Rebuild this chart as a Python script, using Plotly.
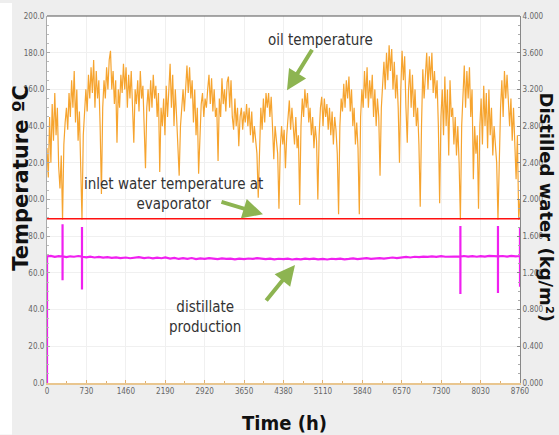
import plotly.graph_objects as go

# ---------------- data ----------------
# daily samples of the oil temperature (°C), day 0 .. 365
oil_temp = [
    128, 112, 145, 120, 152, 132, 158, 135, 150, 118,
    106, 124, 89, 130, 142, 150, 138, 158, 145, 165,
    150, 170, 142, 160, 132, 148, 118, 89, 135, 150,
    160, 148, 168, 155, 172, 158, 176, 150, 170, 155,
    165, 140, 103, 150, 165, 155, 172, 160, 176, 181,
    160, 170, 152, 165, 131, 160, 150, 168, 158, 174,
    160, 172, 150, 168, 155, 170, 145, 131, 160, 152,
    165, 148, 170, 155, 162, 140, 117, 150, 160, 148,
    165, 150, 168, 155, 162, 145, 158, 115, 150, 140,
    155, 135, 162, 145, 165, 174, 150, 168, 140, 160,
    145, 130, 113, 140, 150, 160, 148, 165, 173, 158,
    172, 155, 165, 142, 160, 135, 150, 114, 140, 152,
    158, 145, 155, 150, 160, 168, 152, 166, 148, 160,
    145, 150, 121, 155, 145, 166, 152, 160, 148, 164,
    167, 150, 165, 145, 138, 155, 140, 150, 129, 145,
    150, 138, 148, 142, 152, 140, 150, 135, 148, 131,
    140, 131, 125, 101, 135, 150, 138, 155, 142, 158,
    150, 158, 145, 156, 140, 122, 140, 132, 125, 95,
    128, 140, 130, 138, 117, 135, 145, 154, 138, 150,
    140, 130, 145, 128, 135, 97, 140, 155, 145, 160,
    150, 158, 142, 150, 135, 145, 128, 140, 132, 100,
    135, 150, 156, 140, 155, 145, 152, 138, 150, 135,
    148, 130, 145, 138, 125, 92, 140, 155, 148, 163,
    150, 165, 155, 167, 148, 160, 140, 150, 130, 142,
    128, 92, 145, 160, 150, 170, 155, 172, 150, 165,
    155, 168, 145, 160, 140, 155, 145, 113, 150, 165,
    175, 160, 180, 165, 184, 170, 182, 160, 175, 155,
    168, 150, 120, 160, 181, 165, 178, 150, 131, 160,
    171, 150, 168, 145, 160, 140, 150, 130, 96, 140,
    171, 155, 165, 180, 160, 178, 165, 180, 158, 170,
    155, 165, 140, 98, 145, 160, 135, 167, 140, 160,
    124, 165, 145, 150, 130, 145, 124, 140, 120, 89,
    140, 160, 173, 150, 170, 155, 172, 145, 160, 111,
    140, 125, 135, 95, 140, 155, 130, 162, 140, 158,
    128, 160, 135, 150, 124, 140, 130, 120, 89, 130,
    150, 165, 145, 170, 155, 168, 150, 140, 155, 132,
    150, 130, 111, 135, 89, 100,
]
oil_hours = [d * 24 for d in range(len(oil_temp))]

# inlet water temperature at evaporator (°C)
inlet_hours = [0, 8760]
inlet_temp = [89.5, 89.5]

# distillate production (kg/m2)
dist_hours = [0, 1, 72, 144, 216, 288, 288, 288, 289, 360, 430, 500, 580,
              648, 648, 648, 649, 730, 800, 880, 960, 1040, 1120, 1200, 1280,
              1360, 1460, 1540, 1620, 1700, 1800, 1880, 1960, 2040, 2120, 2190,
              2280, 2360, 2440, 2520, 2600, 2680, 2760, 2840, 2920, 3000, 3080,
              3160, 3240, 3320, 3400, 3480, 3560, 3650, 3730, 3810, 3890, 3970,
              4050, 4130, 4210, 4290, 4380, 4460, 4540, 4620, 4700, 4780, 4860,
              4940, 5020, 5110, 5190, 5270, 5350, 5430, 5510, 5590, 5670, 5750,
              5840, 5920, 6000, 6080, 6160, 6240, 6320, 6400, 6480, 6570, 6650,
              6730, 6810, 6890, 6970, 7050, 7130, 7210, 7300, 7380, 7460, 7540,
              7656, 7656, 7656, 7657, 7720, 7800, 7880, 7960, 8030, 8110, 8190,
              8270, 8352, 8352, 8352, 8353, 8440, 8520, 8600, 8680, 8759, 8760, 8760]
dist_vals = [0.0, 1.38, 1.385, 1.375, 1.382, 1.378, 1.73, 1.12, 1.38, 1.372, 1.381, 1.376, 1.384,
             1.377, 1.70, 1.02, 1.376, 1.37, 1.378, 1.368, 1.374, 1.366, 1.372, 1.364, 1.37,
             1.362, 1.368, 1.36, 1.366, 1.372, 1.362, 1.368, 1.358, 1.366, 1.36, 1.368,
             1.356, 1.364, 1.352, 1.36, 1.354, 1.362, 1.35, 1.358, 1.352, 1.36, 1.355,
             1.35, 1.358, 1.352, 1.356, 1.348, 1.355, 1.35, 1.357, 1.352, 1.36, 1.354,
             1.35, 1.356, 1.348, 1.354, 1.35, 1.356, 1.346, 1.352, 1.348, 1.355, 1.35,
             1.356, 1.348, 1.352, 1.346, 1.354, 1.35, 1.356, 1.348, 1.352, 1.358, 1.35,
             1.355, 1.36, 1.352, 1.358, 1.362, 1.356, 1.364, 1.368, 1.362, 1.37, 1.374,
             1.368, 1.376, 1.372, 1.378, 1.374, 1.38, 1.375, 1.382, 1.376, 1.38, 1.378,
             1.38, 1.71, 0.97, 1.378, 1.384, 1.377, 1.382, 1.376, 1.383, 1.378, 1.385,
             1.379, 1.38, 1.71, 0.98, 1.38, 1.384, 1.378, 1.386, 1.38, 1.384, 1.70, 1.05]

# axis tick values
x_ticks = [0, 730, 1460, 2190, 2920, 3650, 4380, 5110, 5840, 6570, 7300, 8030, 8760]

NARROW = "Noto Sans Condensed, Liberation Sans Narrow, DejaVu Sans Condensed, Liberation Sans, sans-serif"
WIDE = "DejaVu Sans, Verdana, sans-serif"

fig = go.Figure()
fig.add_trace(go.Scatter(x=oil_hours, y=oil_temp, mode="lines",
                         line=dict(color="#f6a42f", width=1.2), name="oil temperature"))
fig.add_trace(go.Scatter(x=inlet_hours, y=inlet_temp, mode="lines",
                         line=dict(color="#ff1010", width=1.6), name="inlet water"))
fig.add_trace(go.Scatter(x=dist_hours, y=dist_vals, mode="lines", yaxis="y2",
                         line=dict(color="#f020f0", width=2.2), name="distillate"))

L, R, T, B = 47, 39, 13, 52
PW = 559 - L - R
PH = 435 - T - B

def px(xp):
    return (xp - L) / PW

def py(yp):
    return (435 - B - yp) / PH

fig.update_layout(
    width=559, height=435, autosize=False,
    margin=dict(l=L, r=R, t=T, b=B, pad=0),
    paper_bgcolor="#eeeeee", plot_bgcolor="white",
    showlegend=False,
    xaxis=dict(range=[0, 8760], tickvals=x_ticks, ticktext=[str(v) for v in x_ticks],
               showgrid=True, gridcolor="#f0f0f0", gridwidth=1,
               showline=True, linecolor="#e9c68f", linewidth=1.5,
               ticks="inside", ticklen=3, tickcolor="#e0b070",
               minor=dict(dtick=365, tick0=0, ticks="inside", ticklen=2, tickcolor="#e0b070", showgrid=False),
               tickfont=dict(family=NARROW, size=8, color="#666666"),
               zeroline=False),
    yaxis=dict(range=[0, 200], dtick=20, tick0=0, tickformat=".1f",
               showgrid=True, gridcolor="#f0f0f0", gridwidth=1,
               showline=True, linecolor="#aaaaaa", linewidth=1,
               ticks="inside", ticklen=3, tickcolor="#aaaaaa",
               minor=dict(dtick=5, ticks="inside", ticklen=2, tickcolor="#bbbbbb", showgrid=False),
               tickfont=dict(family=NARROW, size=8, color="#666666"),
               zeroline=False),
    yaxis2=dict(range=[0, 4], dtick=0.4, tick0=0, tickformat=".3f",
                overlaying="y", side="right", showgrid=False,
                showline=True, linecolor="#888888", linewidth=1,
                ticks="inside", ticklen=3, tickcolor="#888888",
                minor=dict(dtick=0.1, ticks="inside", ticklen=2, tickcolor="#aaaaaa", showgrid=False),
                tickfont=dict(family=NARROW, size=8, color="#666666"),
                zeroline=False),
)

# frame and the white strip at the left
fig.add_shape(type="line", xref="paper", yref="paper", x0=0, x1=1, y0=1, y1=1,
              line=dict(color="#555555", width=1))
fig.add_shape(type="rect", xref="paper", yref="paper", x0=px(0), x1=px(12), y0=py(435), y1=py(0),
              fillcolor="white", line=dict(width=0), layer="below")

ann_font = dict(family=NARROW, size=15, color="#333333")
arrow_col = "#8db451"

# axis titles
fig.add_annotation(text="Temperature ºC", xref="paper", yref="paper", x=px(21), y=py(176),
                   textangle=-90, showarrow=False, xanchor="center", yanchor="middle",
                   font=dict(family=WIDE, size=21, color="#111111", weight="bold"))
fig.add_annotation(text="Distilled water (kg/m²)", xref="paper", yref="paper", x=px(547), y=py(206),
                   textangle=90, showarrow=False, xanchor="center", yanchor="middle",
                   font=dict(family=WIDE, size=18, color="#111111", weight="bold"))
fig.add_annotation(text="Time (h)", xref="paper", yref="paper", x=px(284), y=py(423),
                   showarrow=False, xanchor="center", yanchor="middle",
                   font=dict(family=NARROW, size=20, color="#111111", weight="bold"))

# series labels
fig.add_annotation(text="oil temperature", x=5056, y=187, showarrow=False, font=ann_font)
fig.add_annotation(text="inlet water temperature at<br>evaporator", x=2334, y=103,
                   showarrow=False, font=ann_font)
fig.add_annotation(text="distillate<br>production", x=2926, y=36.2, showarrow=False, font=ann_font)

# green arrows
for hx, hy, ax, ay in [(4445, 159.5, 26, -42), (4000, 91.9, -43, -13), (4593, 64.3, -30, 37)]:
    fig.add_annotation(x=hx, y=hy, ax=ax, ay=ay, text="", showarrow=True,
                       arrowhead=2, arrowsize=1, arrowwidth=4, arrowcolor=arrow_col, standoff=0)

fig.write_html("out.html")
